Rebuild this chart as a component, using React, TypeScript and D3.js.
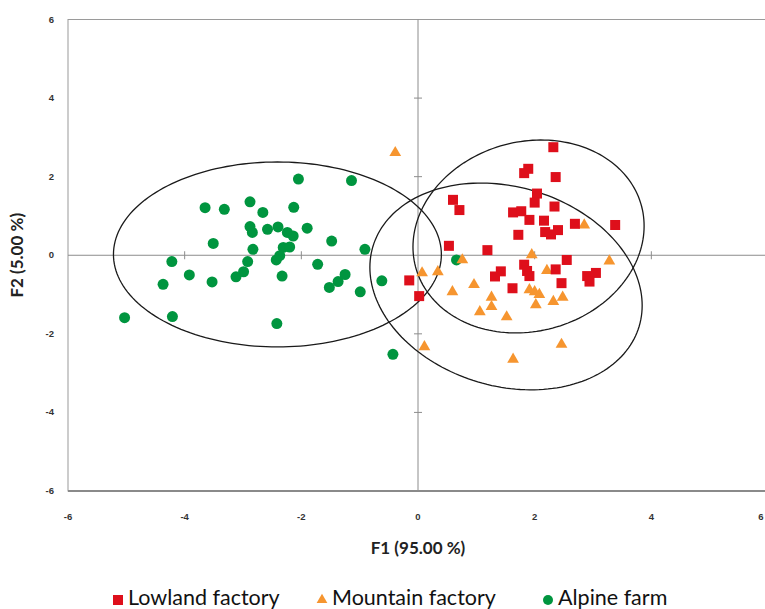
import React from "react";
import * as d3 from "d3";

const W = 765;
const H = 609;

const ticks = [-6, -4, -2, 0, 2, 4, 6];

const lowlandX = [2.32, 1.89, 1.82, 2.36, 2.04, 2.0, 2.34, 0.6, 0.71, 1.63, 1.77, 1.91, 2.16, 2.69, 3.38, 1.72, 2.18, 2.28, 2.4, 0.53, 1.19, 2.55, 1.82, 1.87, 1.91, 2.36, 1.42, 1.32, 2.9, 3.05, 2.94, 2.46, 1.62, -0.15, 0.02];
const lowlandY = [2.75, 2.2, 2.09, 1.99, 1.57, 1.34, 1.24, 1.41, 1.15, 1.09, 1.12, 0.9, 0.88, 0.8, 0.77, 0.52, 0.59, 0.53, 0.64, 0.24, 0.13, -0.12, -0.24, -0.4, -0.53, -0.36, -0.41, -0.54, -0.53, -0.45, -0.67, -0.71, -0.84, -0.64, -1.04];

const mountainX = [-0.39, 2.85, 1.95, 3.28, 0.76, 0.07, 0.34, 2.21, 0.59, 0.96, 1.26, 1.26, 1.06, 1.52, 1.91, 2.0, 2.08, 2.02, 2.32, 2.48, 0.11, 1.63, 2.46];
const mountainY = [2.61, 0.77, 0.01, -0.15, -0.12, -0.45, -0.42, -0.39, -0.93, -0.75, -1.07, -1.31, -1.44, -1.57, -0.88, -0.93, -1.0, -1.26, -1.18, -1.07, -2.33, -2.65, -2.27];

const alpineX = [-5.03, -4.21, -4.37, -4.22, -3.92, -3.53, -3.65, -3.32, -3.51, -2.88, -2.66, -2.88, -2.84, -2.58, -2.4, -2.24, -2.14, -1.9, -2.13, -2.05, -1.14, -1.48, -2.83, -2.31, -2.2, -2.37, -2.43, -2.92, -2.99, -3.12, -2.33, -1.72, -1.25, -1.37, -1.52, -0.99, -0.91, -0.62, -2.42, -0.43, 0.66];
const alpineY = [-1.59, -1.56, -0.74, -0.16, -0.5, -0.68, 1.21, 1.17, 0.3, 1.36, 1.09, 0.73, 0.58, 0.66, 0.72, 0.58, 0.49, 0.69, 1.22, 1.94, 1.9, 0.36, 0.15, 0.2, 0.21, -0.01, -0.12, -0.16, -0.42, -0.55, -0.53, -0.23, -0.49, -0.67, -0.82, -0.93, 0.15, -0.65, -1.74, -2.52, -0.12];

// confidence ellipses: center and covariance-like shape (data units)
const ellipseNames = ["Lowland factory", "Mountain factory", "Alpine farm"];
const ellipseCx = [1.895, 1.509, -2.41];
const ellipseCy = [0.478, -0.794, 0.02];
const ellipseSxx = [3.925, 5.447, 7.9];
const ellipseSyy = [6.029, 6.923, 5.54];
const ellipseSxy = [0.529, -1.131, 0];

const legendLabels = ["Lowland factory", "Mountain factory", "Alpine farm"];
const colors = ["#de0f1b", "#f6952f", "#00953f"];

export default function App() {
  const x = d3.scaleLinear().domain([-6, 6]).range([68, 768]);
  const y = d3.scaleLinear().domain([-6, 6]).range([491, 19.5]);
  const x0 = x(0);
  const y0 = y(0);

  const line = d3
    .line<[number, number]>()
    .x((d) => x(d[0]))
    .y((d) => y(d[1]))
    .curve(d3.curveLinearClosed);

  const ellipsePaths = ellipseNames.map((_, i) => {
    const a = Math.sqrt(ellipseSxx[i]);
    const b = ellipseSxy[i] / a;
    const c = Math.sqrt(ellipseSyy[i] - b * b);
    const pts: [number, number][] = d3.range(0, 360, 2).map((deg) => {
      const t = (deg * Math.PI) / 180;
      const u = Math.cos(t);
      const v = Math.sin(t);
      return [ellipseCx[i] + a * u, ellipseCy[i] + b * u + c * v];
    });
    return line(pts) as string;
  });

  const sq = 10;
  const tri = d3.symbol().type(d3.symbolTriangle).size(60)();

  const legendItems = [
    { x: 118, label: legendLabels[0], kind: "sq" },
    { x: 322, label: legendLabels[1], kind: "tri" },
    { x: 548, label: legendLabels[2], kind: "circ" },
  ];

  return (
    <svg
      width={W}
      height={H}
      style={{ position: "absolute", left: 0, top: 0, background: "#fff" }}
      fontFamily="Arial, 'Liberation Sans', sans-serif"
    >
      <rect x={0} y={0} width={W} height={H} fill="#fff" />
      {/* frame */}
      <rect x={x(-6)} y={y(6)} width={x(6) - x(-6)} height={y(-6) - y(6)} fill="none" stroke="#9a9a9a" strokeWidth={1} />
      <line x1={x(-6)} x2={x(6)} y1={y(-6)} y2={y(-6)} stroke="#8a8a8a" strokeWidth={2} />
      {/* zero axes */}
      <line x1={x(-6)} x2={x(6)} y1={y0} y2={y0} stroke="#8c8c8c" strokeWidth={1} />
      <line x1={x0} x2={x0} y1={y(6)} y2={y(-6)} stroke="#8c8c8c" strokeWidth={1} />
      {ticks.filter((t) => t !== 0 && Math.abs(t) !== 6).map((t) => (
        <g key={"tk" + t}>
          <line x1={x(t)} x2={x(t)} y1={y0 - 4} y2={y0 + 4} stroke="#8c8c8c" />
          <line x1={x0 - 4} x2={x0 + 4} y1={y(t)} y2={y(t)} stroke="#8c8c8c" />
        </g>
      ))}
      {/* tick labels */}
      {ticks.map((t) => (
        <text key={"xl" + t} x={Math.min(x(t), 761)} y={520} fontSize={9.5} fontWeight="bold" fill="#333" textAnchor="middle">
          {t}
        </text>
      ))}
      {ticks.map((t) => (
        <text key={"yl" + t} x={54} y={y(t) + 3} fontSize={9.5} fontWeight="bold" fill="#333" textAnchor="end">
          {t}
        </text>
      ))}
      {/* axis titles */}
      <text x={x0} y={554} fontSize={17} fontWeight="bold" fill="#222" textAnchor="middle" fontFamily="Lato, 'Open Sans', sans-serif">
        F1 (95.00 %)
      </text>
      <text
        transform={`translate(23,${y0}) rotate(-90)`}
        fontSize={17}
        fontWeight="bold"
        fill="#222"
        textAnchor="middle"
        fontFamily="Lato, 'Open Sans', sans-serif"
      >
        F2 (5.00 %)
      </text>
      {/* ellipses */}
      {ellipsePaths.map((p, i) => (
        <path key={"el" + i} d={p} fill="none" stroke="#1a1a1a" strokeWidth={1.3} />
      ))}
      {/* points */}
      {alpineX.map((v, i) => (
        <circle key={"a" + i} cx={x(v)} cy={y(alpineY[i])} r={5.5} fill={colors[2]} />
      ))}
      {mountainX.map((v, i) => (
        <path key={"m" + i} d={tri} transform={`translate(${x(v)},${y(mountainY[i])})`} fill={colors[1]} />
      ))}
      {lowlandX.map((v, i) => (
        <rect key={"l" + i} x={x(v) - sq / 2} y={y(lowlandY[i]) - sq / 2} width={sq} height={sq} fill={colors[0]} />
      ))}
      {/* legend */}
      {legendItems.map((it, i) => (
        <g key={"lg" + i}>
          {it.kind === "sq" && <rect x={it.x - 5} y={595} width={10} height={10} fill={colors[0]} />}
          {it.kind === "tri" && <path d={d3.symbol().type(d3.symbolTriangle).size(50)()} transform={`translate(${it.x},${600})`} fill={colors[1]} />}
          {it.kind === "circ" && <circle cx={it.x} cy={600} r={5} fill={colors[2]} />}
          <text x={it.x + 10} y={605} fontSize={21.5} fill="#111" fontFamily="Lato, 'Open Sans', sans-serif">
            {it.label}
          </text>
        </g>
      ))}
    </svg>
  );
}
